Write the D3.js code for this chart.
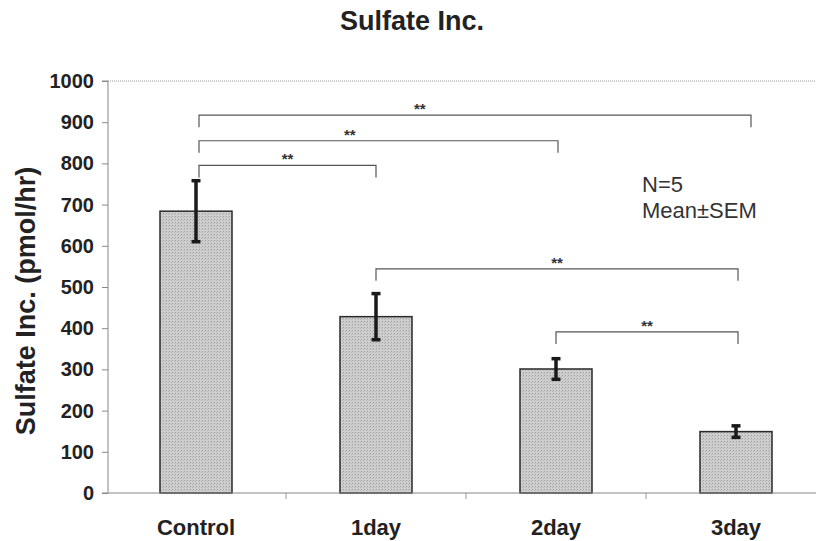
<!DOCTYPE html>
<html>
<head>
<meta charset="utf-8">
<script src="https://cdn.jsdelivr.net/npm/d3@7"></script>
<style>
  body { margin: 0; background: #fff; }
  text { font-family: "Liberation Sans", Arial, sans-serif; }
</style>
</head>
<body>
<div class="chart"></div>
<script>
// data
var categories = ["Control", "1day", "2day", "3day"];
var means = [684, 428, 301, 149];
var sems = [74, 56, 25, 14];
var yTicks = [0, 100, 200, 300, 400, 500, 600, 700, 800, 900, 1000];
// significance brackets: from, to, height (in y units), label
var bracketFrom = ["Control", "Control", "Control", "1day", "2day"];
var bracketTo = ["3day", "2day", "1day", "3day", "3day"];
var bracketLevel = [917, 855, 795, 544, 391];
var bracketLabel = ["**", "**", "**", "**", "**"];
var noteLines = ["N=5", "Mean\u00B1SEM"];

var svgWidth = 816;
var svgHeight = 541;
var margin = { top: 81, right: -10, bottom: 48, left: 106 };
var width = svgWidth - margin.left - margin.right;
var height = svgHeight - margin.top - margin.bottom;

var svg = d3.select(".chart")
    .append("svg")
    .attr("width", svgWidth)
    .attr("height", svgHeight);

// stippled grey fill like the scan
var defs = svg.append("defs");
var pat = defs.append("pattern")
    .attr("id", "stipple")
    .attr("width", 3).attr("height", 3)
    .attr("patternUnits", "userSpaceOnUse");
pat.append("rect").attr("width", 3).attr("height", 3).attr("fill", "#cfcfcf");
pat.append("rect").attr("x", 0).attr("y", 0).attr("width", 1).attr("height", 1).attr("fill", "#9c9c9c");
pat.append("rect").attr("x", 2).attr("y", 1).attr("width", 1).attr("height", 1).attr("fill", "#b4b4b4");

var chartGroup = svg.append("g")
    .attr("transform", `translate(${margin.left},${margin.top})`);

var x = d3.scaleBand()
    .domain(categories)
    .range([0, width])
    .paddingInner(0.6)
    .paddingOuter(0.3);

var y = d3.scaleLinear()
    .domain([0, 1000])
    .range([height, 0]);

// top dotted border line (at 1000)
chartGroup.append("line")
    .attr("x1", 2).attr("x2", width)
    .attr("y1", y(1000)).attr("y2", y(1000))
    .attr("stroke", "#999")
    .attr("stroke-width", 1)
    .attr("stroke-dasharray", "1,1");

// y axis
var leftAxis = d3.axisLeft(y).tickValues(yTicks).tickFormat(d3.format("d")).tickSize(6).tickPadding(8);
var yAxisG = chartGroup.append("g")
    .attr("transform", "translate(2,0)")
    .call(leftAxis);
yAxisG.select(".domain").attr("stroke", "#888").attr("d", `M-6,${y(1000)}H0V${y(0)}H-6`);
yAxisG.selectAll(".tick line").attr("stroke", "#888");
yAxisG.selectAll(".tick text")
    .attr("font-size", 20)
    .attr("font-weight", "bold")
    .attr("fill", "#222");

// bars
chartGroup.selectAll(".bar")
    .data(categories)
    .enter()
    .append("rect")
    .attr("class", "bar")
    .attr("x", d => x(d))
    .attr("width", x.bandwidth())
    .attr("y", (d, i) => y(means[i]))
    .attr("height", (d, i) => y(0) - y(means[i]))
    .attr("fill", "url(#stipple)")
    .attr("stroke", "#2a2a2a")
    .attr("stroke-width", 1.5);

// x axis at 0
var bottomAxis = d3.axisBottom(x).tickSize(0).tickPadding(26);
var xAxisG = chartGroup.append("g")
    .attr("transform", `translate(0,${y(0)})`)
    .call(bottomAxis);
xAxisG.select(".domain").attr("stroke", "#888").attr("stroke-width", 1.2).attr("d", `M2,0H${width}`);
xAxisG.selectAll(".tick text")
    .attr("font-size", 22)
    .attr("font-weight", "bold")
    .attr("fill", "#222");
// category separator ticks
xAxisG.selectAll(".sep")
    .data(categories.slice(1))
    .enter()
    .append("line")
    .attr("x1", d => x(d) - x.step() * x.paddingInner() / 2)
    .attr("x2", d => x(d) - x.step() * x.paddingInner() / 2)
    .attr("y1", 0).attr("y2", 6)
    .attr("stroke", "#999");

// error bars
var cx = d => x(d) + x.bandwidth() / 2;
var err = chartGroup.selectAll(".err")
    .data(categories)
    .enter()
    .append("g")
    .attr("stroke", "#1a1a1a")
    .attr("stroke-width", 3.5);
err.append("line")
    .attr("x1", cx).attr("x2", cx)
    .attr("y1", (d, i) => y(means[i] + sems[i]))
    .attr("y2", (d, i) => y(means[i] - sems[i]));
err.append("line")
    .attr("x1", d => cx(d) - 4.5).attr("x2", d => cx(d) + 4.5)
    .attr("y1", (d, i) => y(means[i] + sems[i]))
    .attr("y2", (d, i) => y(means[i] + sems[i]));
err.append("line")
    .attr("x1", d => cx(d) - 4.5).attr("x2", d => cx(d) + 4.5)
    .attr("y1", (d, i) => y(means[i] - sems[i]))
    .attr("y2", (d, i) => y(means[i] - sems[i]));

// significance brackets
var startNudge = [3, 3, 3, 0, 0];
var endNudge = [15, 2, 0, 2, 2];
var starPos = [0.4, 0.42, 0.5, 0.5, 0.5];
bracketLevel.forEach(function(lv, i) {
  var x1 = cx(bracketFrom[i]) + startNudge[i];
  var x2 = cx(bracketTo[i]) + endNudge[i];
  var yy = y(lv);
  chartGroup.append("path")
    .attr("d", `M${x1},${yy + 12}V${yy}H${x2}V${yy + 12}`)
    .attr("fill", "none")
    .attr("stroke", "#555")
    .attr("stroke-width", 1.2);
  chartGroup.append("text")
    .attr("x", x1 + (x2 - x1) * starPos[i])
    .attr("y", yy - 1)
    .attr("text-anchor", "middle")
    .attr("font-size", 15)
    .attr("font-weight", "bold")
    .attr("fill", "#333")
    .text(bracketLabel[i]);
});

// note
chartGroup.selectAll(".note")
    .data(noteLines)
    .enter()
    .append("text")
    .attr("x", 536)
    .attr("y", (d, i) => 111 + i * 26)
    .attr("font-size", 22)
    .attr("fill", "#333")
    .text(d => d);

// title
svg.append("text")
    .attr("x", 412)
    .attr("y", 30)
    .attr("text-anchor", "middle")
    .attr("font-size", 27)
    .attr("font-weight", "bold")
    .attr("fill", "#222")
    .text("Sulfate Inc.");

// y axis label
svg.append("text")
    .attr("transform", "rotate(-90)")
    .attr("x", -301)
    .attr("y", 35)
    .attr("text-anchor", "middle")
    .attr("font-size", 27)
    .attr("font-weight", "bold")
    .attr("fill", "#222")
    .text("Sulfate Inc. (pmol/hr)");
</script>
</body>
</html>
